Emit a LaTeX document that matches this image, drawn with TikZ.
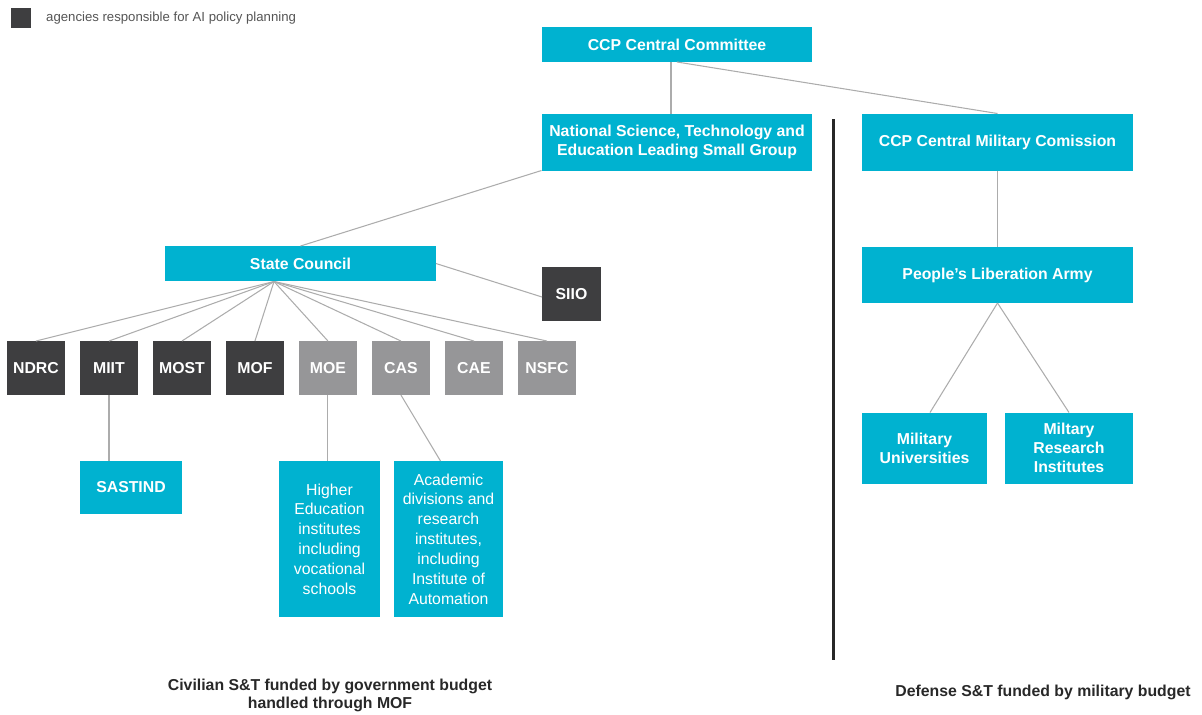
\documentclass[tikz,border=0pt]{standalone}
\usepackage{fontspec}
\setmainfont{Liberation Sans}
\usepackage{xcolor}
\usetikzlibrary{positioning}
\definecolor{govcyan}{RGB}{0,178,208}
\definecolor{plangray}{RGB}{62,62,64}
\definecolor{othergray}{RGB}{150,150,152}
\definecolor{linkgray}{RGB}{172,172,172}
\definecolor{notegray}{RGB}{85,85,85}
\definecolor{captiongray}{RGB}{40,40,40}

\begin{document}
\begin{tikzpicture}[x=0.02cm, y=-0.02cm,
    block/.style={rectangle, fill=govcyan, text=white, inner sep=0pt, outer sep=0pt, align=center, font=\bfseries\fontsize{9}{11}\selectfont},
    wide/.style={block, minimum width=5.42cm},
    agency/.style={block, fill=plangray, minimum width=1.16cm, minimum height=1.08cm},
    other/.style={agency, fill=othergray},
    sub/.style={block, font=\fontsize{9}{11.3}\selectfont},
    caption/.style={align=center, text=captiongray, font=\bfseries\fontsize{9}{10}\selectfont},
    link/.style={draw=linkgray, line width=0.6pt}]
    \useasboundingbox (0,0) rectangle (1202,714);

    \node[agency, minimum width=0.4cm, minimum height=0.4cm] (legbox) at (21,18) {};
    \node[anchor=west, text=notegray, font=\fontsize{7.5}{9}\selectfont] (legtxt) at (40,18) {agencies responsible for AI policy planning};

    \node[wide, minimum height=0.7cm] (cc) at (677,44.5) {CCP Central Committee};
    \node[wide, minimum height=1.14cm] (nstg) at (677,142) {National Science, Technology and\\Education Leading Small Group};
    \node[wide, minimum height=1.14cm] (cmc) at (997.5,142) {CCP Central Military Comission};
    \node[wide, minimum height=0.7cm] (sc) at (300.5,263.5) {State Council};
    \node[agency, minimum width=1.18cm] (siio) at (571.5,294) {SIIO};
    \node[wide, minimum height=1.12cm] (pla) at (997.5,275) {People’s Liberation Army};

    \node[agency] (ndrc) at (36,368) {NDRC};
    \node[agency, right=0.3cm of ndrc] (miit) {MIIT};
    \node[agency, right=0.3cm of miit] (most) {MOST};
    \node[agency, right=0.3cm of most] (mof) {MOF};
    \node[other, right=0.3cm of mof] (moe) {MOE};
    \node[other, right=0.3cm of moe] (cas) {CAS};
    \node[other, right=0.3cm of cas] (cae) {CAE};
    \node[other, right=0.3cm of cae] (nsfc) {NSFC};

    \node[block, minimum width=2.04cm, minimum height=1.06cm] (sastind) at (131,487.5) {SASTIND};
    \node[sub, minimum width=2.04cm, minimum height=3.12cm] (higher) at (329.5,539) {Higher\\Education\\institutes\\including\\vocational\\schools};
    \node[sub, minimum width=2.18cm, minimum height=3.12cm] (acad) at (448.5,539) {Academic\\divisions and\\research\\institutes,\\including\\Institute of\\Automation};
    \node[block, minimum width=2.5cm, minimum height=1.42cm] (milu) at (924.5,448) {Military\\Universities};
    \node[block, minimum width=2.56cm, minimum height=1.42cm] (milr) at (1069,448) {Miltary\\Research\\Institutes};

    \node[caption] (civil) at (330,695.5) {Civilian S\&T funded by government budget\\handled through MOF};
    \node[caption] (defense) at (1043,692) {Defense S\&T funded by military budget};

    \coordinate (fan) at (274,281.5);
    \coordinate (bartop) at (833,119);
    \coordinate (barbot) at (833,660);

    \draw[link] ([xshift=-0.12cm]cc.south) -- ([xshift=-0.12cm]nstg.north);
    \draw[link] (cc.south) -- (cmc.north);
    \draw[link] (nstg.south west) -- (sc.north);
    \draw[link] (sc.east) -- ([yshift=-0.06cm]siio.west);
    \draw[link] (fan) -- (ndrc.north);
    \draw[link] (fan) -- (miit.north);
    \draw[link] (fan) -- (most.north);
    \draw[link] (fan) -- (mof.north);
    \draw[link] (fan) -- (moe.north);
    \draw[link] (fan) -- (cas.north);
    \draw[link] (fan) -- (cae.north);
    \draw[link] (fan) -- (nsfc.north);
    \draw[link] (miit.south) -- (miit.south |- sastind.north);
    \draw[link] (moe.south) -- (moe.south |- higher.north);
    \draw[link] (cas.south) -- ([xshift=-0.16cm]acad.north);
    \draw[link] (cmc.south) -- (pla.north);
    \draw[link] (pla.south) -- ([xshift=0.11cm]milu.north);
    \draw[link] (pla.south) -- (milr.north);
    \draw[line width=1.7pt, draw=captiongray] (bartop) -- (barbot);
\end{tikzpicture}
\end{document}
